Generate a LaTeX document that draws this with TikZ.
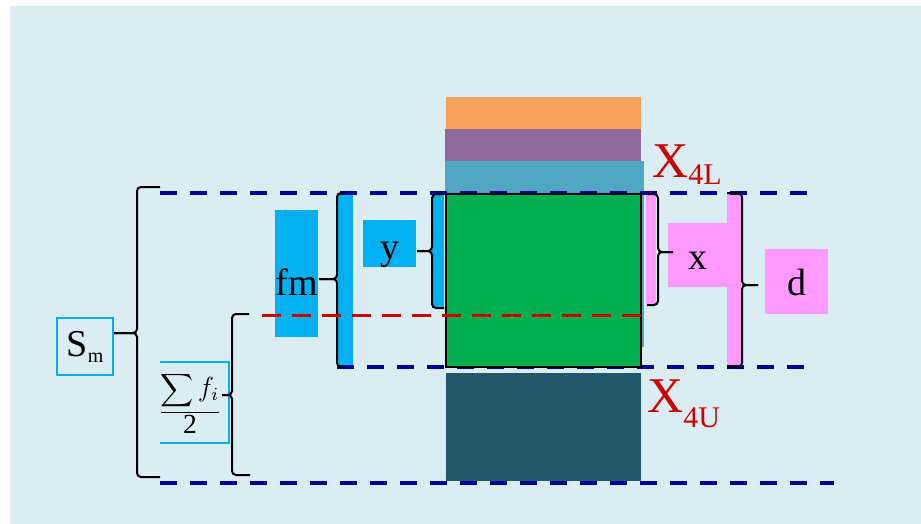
\documentclass[tikz,border=0pt]{standalone}
\usepackage{fontspec}
\setmainfont{Liberation Serif}
\definecolor{bgc}{HTML}{DAEDF3}
\definecolor{orangec}{HTML}{F4A25C}
\definecolor{purplec}{HTML}{8C6A9B}
\definecolor{ltealc}{HTML}{50A7C2}
\definecolor{greenc}{HTML}{00B050}
\definecolor{dtealc}{HTML}{235868}
\definecolor{cyanc}{HTML}{00B0F0}
\definecolor{pinkc}{HTML}{FF99FF}
\definecolor{navyc}{HTML}{000099}
\definecolor{redc}{HTML}{CC0000}
\begin{document}
\begin{tikzpicture}[x=1pt,y=-1pt,
  lbl/.style={inner sep=0pt, font=\fontsize{38}{40}\selectfont, anchor=base},
  cyanbox/.style={fill=cyanc},
  pinkbox/.style={fill=pinkc},
  brc/.style={draw=black, line width=2pt, rounded corners=4pt},
  bluedash/.style={draw=navyc, line width=3.5pt, dash pattern=on 17pt off 13pt},
  reddash/.style={draw=redc, line width=3pt, dash pattern=on 19pt off 11pt},
  redlbl/.style={anchor=base west, inner sep=0pt, text=redc, font=\fontsize{50}{52}\selectfont}]
\useasboundingbox (0,0) rectangle (921,524);
\fill[bgc] (10,6) rectangle (921,524);
% stacked blocks
\fill[orangec] (446,97) rectangle (641,129);
\fill[purplec] (445,129) rectangle (641,161);
\fill[ltealc] (445,161) rectangle (644,347);
% bars
\fill[cyanc] (337,193) rectangle (353,367);
\fill[cyanc] (432,193) rectangle (444,308);
\fill[pinkc] (646,194) rectangle (656,305);
\fill[pinkc] (727,193) rectangle (741,367);
\fill[dtealc] (446,373) rectangle (641,481);
% dashed guide lines
\draw[bluedash] (160,193) -- (815,193);
\draw[bluedash] (337,367) -- (807,367);
\draw[bluedash] (160,483) -- (834,483);
% green block
\draw[fill=greenc, line width=2.5pt] (446,194) rectangle (641,367);
% label boxes
\node[lbl, cyanbox, minimum width=41pt, text height=85pt, text depth=42pt] (fm) at (296.5,295) {fm};
\node[lbl, cyanbox, minimum width=53pt, text height=39pt, text depth=8pt] (y) at (389.5,259) {y};
\node[lbl, pinkbox, minimum width=59pt, text height=46pt, text depth=18pt] (x) at (697.5,269) {x};
\node[lbl, pinkbox, minimum width=63pt, text height=46pt, text depth=19pt] (d) at (796.5,295) {d};
\node[lbl, draw=cyanc, line width=1.5pt, minimum width=56pt, text height=38pt, text depth=19pt] (Sm) at (85,356) {S\raisebox{-6pt}{\fontsize{20}{20}\selectfont m}};
\draw[cyanc, line width=1.5pt] (160,362) -- (229,362) -- (229,443) -- (160,443);
\node[inner sep=0pt] (fr) at (190,403) {\scalebox{2.3}{$\displaystyle\frac{\displaystyle\sum \mbox{\large$f_i$}}{\mbox{\large 2}}$}};
% red labels
\node[redlbl] (X4L) at (652,177) {X\raisebox{-8pt}{\fontsize{30}{30}\selectfont 4L}};
\node[redlbl] (X4U) at (647,412) {X\raisebox{-15pt}{\fontsize{30}{30}\selectfont 4U}};
% braces
\draw[brc] (160,187) -- (137,187) -- (137,333) -- (114,333);
\draw[brc] (114,333) -- (137,333) -- (137,477) -- (160,477);
\draw[brc] (249,314) -- (232,314) -- (232,395) -- (222,395);
\draw[brc] (222,395) -- (232,395) -- (232,475) -- (250,475);
\draw[brc] (343,193) -- (337,193) -- (337,279) -- (319,279);
\draw[brc] (319,279) -- (337,279) -- (337,367) -- (343,367);
\draw[brc] (443,194) -- (432,194) -- (432,251) -- (417,251);
\draw[brc] (417,251) -- (432,251) -- (432,308) -- (444,308);
\draw[brc] (647,194) -- (658,194) -- (658,252) -- (673,252);
\draw[brc] (673,252) -- (658,252) -- (658,305) -- (647,305);
\draw[brc] (727,193) -- (742,193) -- (742,285) -- (758,285);
\draw[brc] (758,285) -- (742,285) -- (742,367) -- (727,367);
% red dashed line
\draw[reddash] (262,315) -- (642,315);
\end{tikzpicture}
\end{document}
